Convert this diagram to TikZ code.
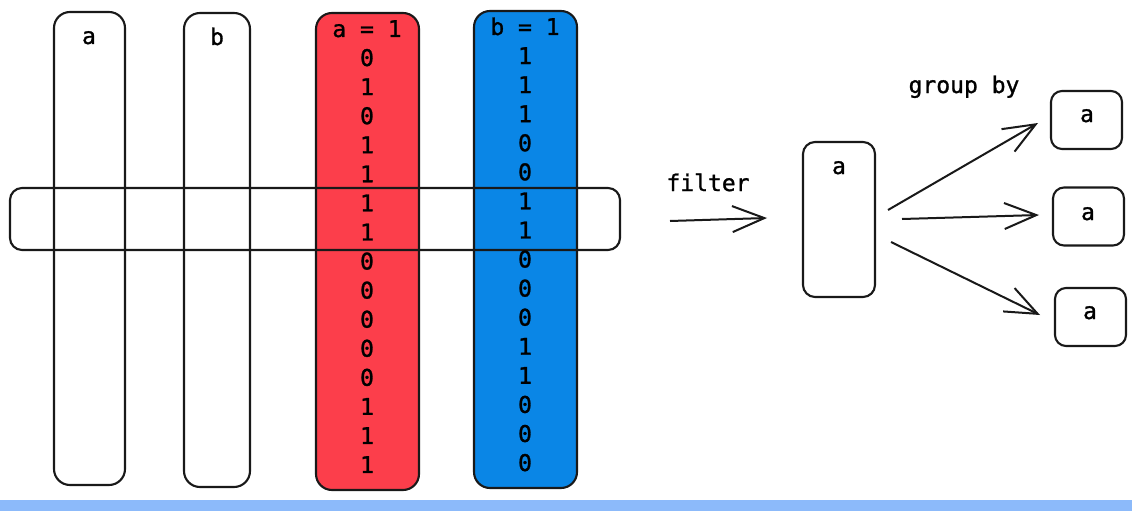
\documentclass[tikz,border=0pt]{standalone}
\usepackage{fontspec}
\newfontfamily\mono[FakeBold=1.2]{DejaVu Sans Mono}
\usetikzlibrary{arrows.meta}
\definecolor{colred}{RGB}{252,62,75}
\definecolor{colblue}{RGB}{10,134,230}
\definecolor{barblue}{RGB}{140,186,250}
\definecolor{ink}{RGB}{25,25,25}
\begin{document}
\begin{tikzpicture}[x=1pt,y=-1pt,
  box/.style={draw=ink, line width=2.1pt, rounded corners=16pt, inner sep=0pt},
  smallbox/.style={draw=ink, line width=2.1pt, rounded corners=11pt, inner sep=0pt, minimum width=71pt, minimum height=58pt},
  txt/.style={font=\mono\fontsize{23}{27}\selectfont, inner sep=0pt, text height=16pt, text depth=0pt, text=black},
  arr/.style={draw=ink, line width=2pt, -{Straight Barb[length=32pt, width=26pt, line width=2pt]}},
]
\useasboundingbox (0,0) rectangle (1132,511);
\fill[white] (0,0) rectangle (1132,511);
\fill[barblue] (0,500) rectangle (1132,511);

% columns
\node[box, minimum width=71pt, minimum height=473pt] (ca) at (89.5,248.5) {};
\node[box, minimum width=66pt, minimum height=474pt] (cb) at (217,250) {};
\node[box, fill=colred, minimum width=103pt, minimum height=477pt] (cr) at (367.5,251.5) {};
\node[box, fill=colblue, minimum width=103pt, minimum height=477pt] (cu) at (525.5,249.5) {};

% horizontal band
\node[box, rounded corners=12pt, minimum width=610pt, minimum height=62pt] (band) at (315,219) {};

% headers
\node[txt] (ta) at (89,36) {a};
\node[txt] (tb) at (217,37) {b};
\node[txt] (tr) at (367,29) {a = 1};
\node[txt] (tu) at (525,27) {b = 1};

\foreach \v [count=\i] in {0,1,0,1,1,1,1,0,0,0,0,0,1,1,1}
  \node[txt] (r\i) at (367,{58+29.07*(\i-1)}) {\v};
\foreach \v [count=\i] in {1,1,1,0,0,1,1,0,0,0,1,1,0,0,0}
  \node[txt] (u\i) at (525,{56+29.07*(\i-1)}) {\v};

% filter
\node[txt] (filter) at (708,183) {filter};
\coordinate (fs) at (670,221);
\coordinate (fe) at (767,218);
\draw[arr] (fs) -- (fe);

\node[box, rounded corners=12pt, minimum width=72pt, minimum height=155pt] (mid) at (839,219.5) {};
\node[txt] (tm) at (839,166) {a};

% group by
\node[txt] (group) at (964,85) {group by};
\node[smallbox] (g1) at (1086.5,120) {};
\node[smallbox] (g2) at (1088.5,216.5) {};
\node[smallbox] (g3) at (1090.5,317) {};
\node[txt] (tg1) at (1087,114) {a};
\node[txt] (tg2) at (1088,212) {a};
\node[txt] (tg3) at (1090,311) {a};

\coordinate (s1) at (888,210);
\coordinate (e1) at (1038,123);
\coordinate (s2) at (902,219);
\coordinate (e2) at (1039,215);
\coordinate (s3) at (891,242);
\coordinate (e3) at (1040,315);
\draw[arr] (s1) -- (e1);
\draw[arr] (s2) -- (e2);
\draw[arr] (s3) -- (e3);
\end{tikzpicture}
\end{document}
